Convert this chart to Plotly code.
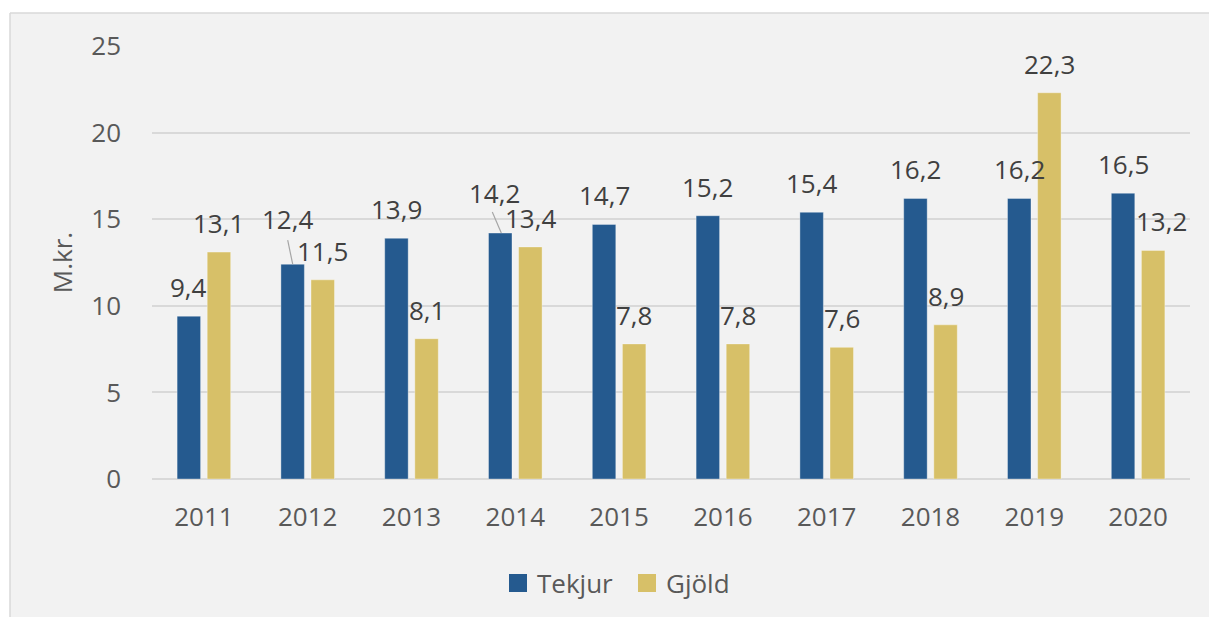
import plotly.graph_objects as go

years = ["2011", "2012", "2013", "2014", "2015", "2016", "2017", "2018", "2019", "2020"]
tekjur = [9.4, 12.4, 13.9, 14.2, 14.7, 15.2, 15.4, 16.2, 16.2, 16.5]
gjold = [13.1, 11.5, 8.1, 13.4, 7.8, 7.8, 7.6, 8.9, 22.3, 13.2]
series_names = ["Tekjur", "Gjöld"]
y_ticks = [0, 5, 10, 15, 20, 25]
y_title = "M.kr."

BLUE = "#255A8F"
GOLD = "#D7C068"
FONT = "Open Sans"

# plot-area geometry (pixels)
W, H = 1209, 617
L, R, T, B = 152, 19, 46, 138
PW, PH = W - L - R, H - T - B


def px(xp):
    return (xp - L) / PW


def py(yp):
    return (H - B - yp) / PH


fig = go.Figure()
fig.add_trace(go.Bar(x=years, y=tekjur, name=series_names[0], marker_color=BLUE,
                     marker_line=dict(color="rgba(255,255,255,0.35)", width=1),
                     showlegend=False, hoverinfo="x+y"))
fig.add_trace(go.Bar(x=years, y=gjold, name=series_names[1], marker_color=GOLD,
                     marker_line=dict(color="rgba(255,255,255,0.35)", width=1),
                     showlegend=False, hoverinfo="x+y"))

# data labels, offsets in pixels (layout only)
nudge = {(0, 1): (-5, 16), (0, 3): (-6, 11), (1, 9): (8, 0)}
annotations = []
for si, vals in enumerate([tekjur, gjold]):
    base_dx = -15 if si == 0 else 15
    for i, v in enumerate(vals):
        dx, dy = nudge.get((si, i), (0, 0))
        annotations.append(dict(
            x=i, y=v, xref="x", yref="y", text=f"{v:.1f}".replace(".", ","),
            showarrow=False, xanchor="center", yanchor="middle",
            xshift=base_dx + dx, yshift=29 + dy,
            font=dict(family=FONT, size=26, color="#404040")))

shapes = []
# chart frame (fill + left/top border only; right/bottom lie outside the picture)
shapes.append(dict(type="rect", xref="paper", yref="paper", layer="below",
                   x0=px(10), x1=px(1260), y0=py(660), y1=py(13),
                   fillcolor="#F2F2F2", line=dict(width=0)))
shapes.append(dict(type="line", xref="paper", yref="paper", layer="below",
                   x0=px(10), x1=px(10), y0=py(660), y1=py(13),
                   line=dict(color="#D9D9D9", width=1.5)))
shapes.append(dict(type="line", xref="paper", yref="paper", layer="below",
                   x0=px(10), x1=px(1260), y0=py(13), y1=py(13),
                   line=dict(color="#D9D9D9", width=1.5)))
# leader lines for displaced labels
for (si, i), (x0, y0, x1, y1) in {(0, 1): (-20, 24, -15, 0), (0, 3): (-23, 21, -14, 0)}.items():
    v = [tekjur, gjold][si][i]
    shapes.append(dict(type="line", xref="x", yref="y",
                       xsizemode="pixel", ysizemode="pixel",
                       xanchor=i, yanchor=v, x0=x0, x1=x1, y0=y0, y1=y1,
                       line=dict(color="#A6A6A6", width=1.2)))

# custom legend
for name, col, sq_x, tx_x in [(series_names[0], BLUE, 509, 535), (series_names[1], GOLD, 638, 664)]:
    shapes.append(dict(type="rect", xref="paper", yref="paper",
                       x0=px(sq_x), x1=px(sq_x + 18), y0=py(592), y1=py(574),
                       fillcolor=col, line=dict(width=0)))
    annotations.append(dict(x=px(tx_x), y=py(583), xref="paper", yref="paper",
                            text=name, showarrow=False, xanchor="left", yanchor="middle",
                            font=dict(family=FONT, size=26, color="#595959")))

fig.update_layout(
    width=W, height=H,
    margin=dict(l=L, r=R, t=T, b=B, pad=0),
    paper_bgcolor="white", plot_bgcolor="rgba(0,0,0,0)",
    barmode="group", bargap=0.42, bargroupgap=0.22,
    font=dict(family=FONT, size=26, color="#595959"),
    annotations=annotations, shapes=shapes,
    showlegend=False,
)
fig.update_xaxes(type="category", categoryorder="array", categoryarray=years,
                 range=[-0.5, len(years) - 0.5], autorange=False,
                 showgrid=False, showline=False, zeroline=False,
                 ticks="", ticklabelstandoff=20,
                 tickfont=dict(family=FONT, size=26, color="#595959"))
fig.update_yaxes(range=[0, 25], autorange=False, tickvals=y_ticks, showgrid=True, gridcolor="#D9D9D9",
                 gridwidth=1.5, zeroline=True, zerolinecolor="#D9D9D9", zerolinewidth=1.5,
                 showline=False, ticks="", ticklabelstandoff=30,
                 tickfont=dict(family=FONT, size=26, color="#595959"),
                 title=dict(text=y_title, standoff=11,
                            font=dict(family=FONT, size=26, color="#595959")))

fig.write_html("out.html", config={"displayModeBar": False},
               post_script="document.body.style.margin='0';document.body.style.overflow='hidden';")
